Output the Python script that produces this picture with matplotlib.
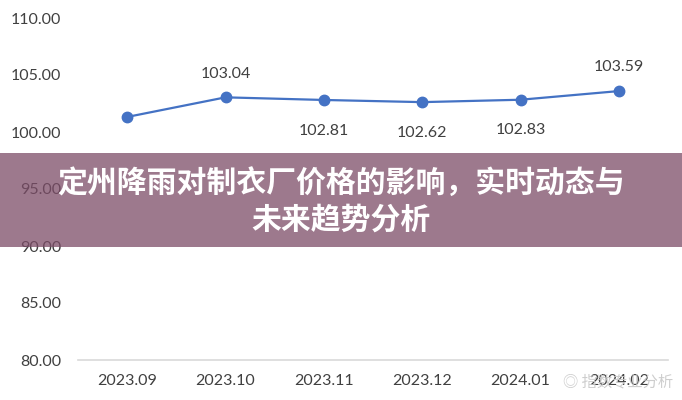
import matplotlib
matplotlib.use("Agg")
import matplotlib.pyplot as plt
from matplotlib.patches import Rectangle

categories = ["2023.09", "2023.10", "2023.11", "2023.12", "2024.01", "2024.02"]
values = [101.32, 103.04, 102.81, 102.62, 102.83, 103.59]
labels = ["", "103.04", "102.81", "102.62", "102.83", "103.59"]
label_pos = ["", "above", "below", "below", "below", "above"]
yticks = [80, 85, 90, 95, 100, 105, 110]
title_lines = ["定州降雨对制衣厂价格的影响，实时动态与", "未来趋势分析"]
watermark = "指数专业分析"

plt.rcParams['font.family'] = ['Lato', 'DejaVu Sans']

fig = plt.figure(figsize=(6.82, 4.0), dpi=100)
ax = fig.add_axes([78/682, 40/400, 590/682, 342/400])

x = list(range(len(categories)))
ax.plot(x, values, color="#4472C4", lw=1.6, marker="o", ms=7.5,
        markerfacecolor="#4472C4", markeredgecolor="#4472C4", zorder=3)

for xi, v, lab, pos in zip(x, values, labels, label_pos):
    if not lab:
        continue
    off = 17 if pos == "above" else -22
    ax.annotate(lab, (xi, v), xytext=(0, off), textcoords="offset points",
                ha="center", va="center", fontsize=11.5, color="#404040")

ax.set_xlim(-0.5, len(categories) - 0.5)
ax.set_ylim(80, 110)
ax.set_yticks(yticks)
ax.set_yticklabels([f"{t:.2f}" for t in yticks])
ax.set_xticks(x)
ax.set_xticklabels(categories)
ax.tick_params(axis="both", length=0, labelsize=11.5, colors="#404040")
ax.tick_params(axis="y", pad=12)
ax.tick_params(axis="x", pad=10)
for s in ["top", "right", "left"]:
    ax.spines[s].set_visible(False)
ax.spines["bottom"].set_color("#D9D9D9")
ax.spines["bottom"].set_linewidth(1.2)

# watermark
fig.text(563/682, 0.045, "◎ " + watermark, ha="left", va="center", fontsize=11,
         color="#C8C8C8", alpha=0.9, family=["Noto Sans CJK SC", "DejaVu Sans"])

# banner
fig.patches.append(Rectangle((0, 153/400), 1, 94/400, transform=fig.transFigure,
                             facecolor=(124/255, 76/255, 103/255), alpha=0.75,
                             edgecolor="none", zorder=5))
fig.text(0.5, 1 - 184/400, title_lines[0], ha="center", va="center", fontsize=21.5,
         fontweight="bold", color="white", family=["Noto Sans CJK SC", "DejaVu Sans"], zorder=6)
fig.text(0.5, 1 - 220/400, title_lines[1], ha="center", va="center", fontsize=21.5,
         fontweight="bold", color="white", family=["Noto Sans CJK SC", "DejaVu Sans"], zorder=6)

fig.savefig("out.png", dpi=100)
